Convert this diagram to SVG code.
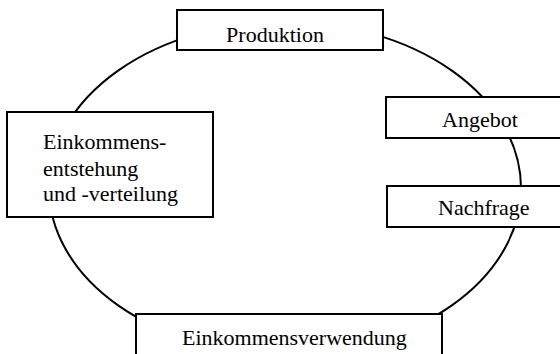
<svg xmlns="http://www.w3.org/2000/svg" width="560" height="354" viewBox="0 0 560 354">
<style>
.box{fill:#fff;stroke:#000;stroke-width:2}
.t{font-family:"Liberation Serif","Times New Roman",serif;font-size:22px;fill:#000}
</style>
<rect width="560" height="354" fill="#fff"/>
<g id="connectors">
<ellipse cx="285" cy="188" rx="236" ry="166" fill="none" stroke="#000" stroke-width="2"/>
</g>
<g id="produktion">
<rect class="box" x="177" y="10" width="206" height="40"/>
<text class="t" x="275" y="42" text-anchor="middle">Produktion</text>
</g>
<g id="einkommensentstehung">
<rect class="box" x="7" y="112" width="206" height="105"/>
<text class="t" x="43" y="149">Einkommens-</text>
<text class="t" x="43" y="176">entstehung</text>
<text class="t" x="43" y="201">und -verteilung</text>
</g>
<g id="angebot">
<rect class="box" x="386" y="97" width="200" height="41"/>
<text class="t" x="442" y="127">Angebot</text>
</g>
<g id="nachfrage">
<rect class="box" x="387" y="186" width="200" height="41"/>
<text class="t" x="438" y="215">Nachfrage</text>
</g>
<g id="einkommensverwendung">
<rect class="box" x="136" y="314" width="306" height="60"/>
<text class="t" x="182" y="345">Einkommensverwendung</text>
</g>
</svg>
